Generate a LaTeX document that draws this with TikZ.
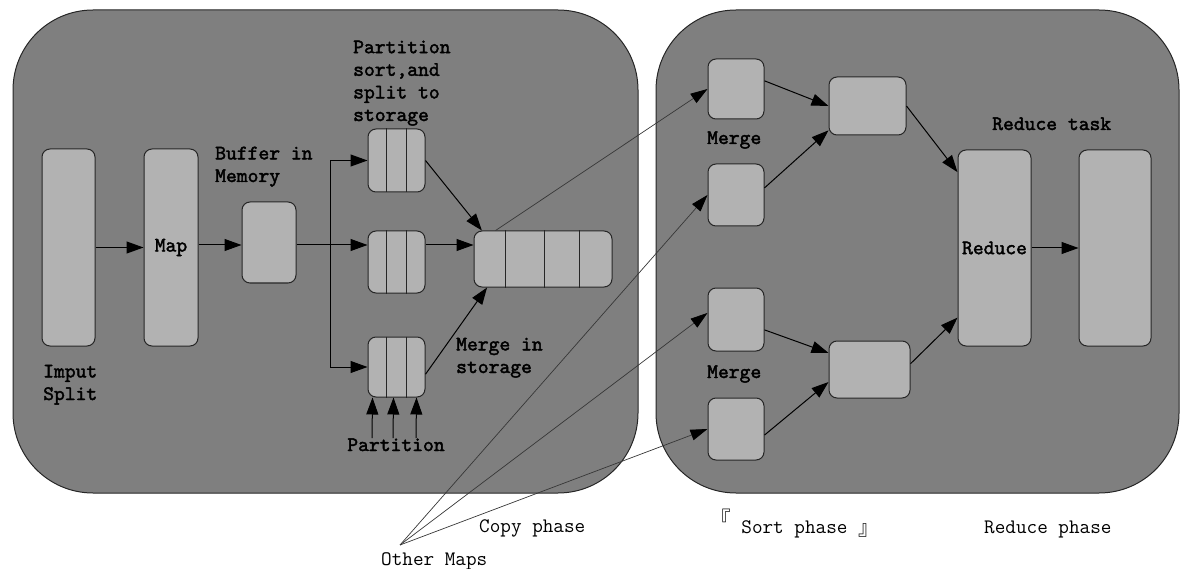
\documentclass[tikz,border=0pt]{standalone}
\usepackage{fontspec}
\newfontfamily\cjk{Noto Sans CJK SC}
\newfontfamily\ttbold{lmmono10-regular.otf}[FakeBold=2]
\usetikzlibrary{arrows.meta, calc}

\definecolor{panelgray}{RGB}{127,127,127}
\definecolor{boxgray}{RGB}{178,178,178}
\definecolor{copyline}{RGB}{55,55,55}

\begin{document}
\begin{tikzpicture}[
  x=1pt, y=-1pt,
  panel/.style = {draw=black!85, fill=panelgray, rounded corners=80pt, line width=1pt},
  box/.style = {draw=black!85, fill=boxgray, rounded corners=8pt, inner sep=0pt, line width=1pt,
                font=\ttbold\fontsize{20.6}{22.6}\selectfont},
  lbl/.style = {inner sep=0pt, align=left, anchor=base west,
                font=\ttbold\fontsize{20.6}{22.6}\selectfont},
  phase/.style = {inner sep=0pt, anchor=base west, font=\ttfamily\fontsize{20.6}{22.6}\selectfont},
  arrow/.style = {line width=1pt, -{Triangle[length=17pt,width=12pt]}},
  copyarrow/.style = {draw=copyline, line width=0.7pt, -{Triangle[length=17pt,width=11pt,color=black]}}
]
  \useasboundingbox (0,0) rectangle (1180,569);

  % Map side and reduce side
  \draw[panel] (13,10) rectangle (638,493);
  \draw[panel] (656,10) rectangle (1179,493);

  % Map task
  \node[box, minimum width=53pt, minimum height=197pt] (inp) at (68.5,247.5) {};
  \node[box, minimum width=54pt, minimum height=197pt] (map) at (171,247.5) {Map};
  \node[box, minimum width=54pt, minimum height=81pt] (buf) at (269,242.5) {};
  \node[box, minimum width=57pt, minimum height=63pt] (ptop) at (396.5,160.5) {};
  \node[box, minimum width=57pt, minimum height=62pt] (pmid) at (396.5,262) {};
  \node[box, minimum width=57pt, minimum height=60pt] (pbot) at (396.5,367) {};
  \node[box, minimum width=138pt, minimum height=56pt] (store) at (543,259) {};

  \foreach \p in {ptop,pmid,pbot}
    \foreach \f in {0.32,0.68}
      \draw[line width=1pt, black!85] ($(\p.north west)!\f!(\p.north east)$) -- ($(\p.south west)!\f!(\p.south east)$);
  \foreach \f in {0.23,0.51,0.76}
    \draw[line width=1pt, black!85] ($(store.north west)!\f!(store.north east)$) -- ($(store.south west)!\f!(store.south east)$);

  % Reduce task
  \node[box, minimum width=56pt, minimum height=60pt] (m1) at (736,89) {};
  \node[box, minimum width=56pt, minimum height=62pt] (m2) at (736,195) {};
  \node[box, minimum width=77pt, minimum height=58pt] (c1) at (867.5,106) {};
  \node[box, minimum width=56pt, minimum height=63pt] (m3) at (736,319.5) {};
  \node[box, minimum width=56pt, minimum height=62pt] (m4) at (736,429) {};
  \node[box, minimum width=81pt, minimum height=57pt] (c2) at (869.5,369.5) {};
  \node[box, minimum width=73pt, minimum height=196pt] (red) at (994.5,248) {Reduce};
  \node[box, minimum width=72pt, minimum height=196pt] (outb) at (1115,248) {};

  % Labels (base = last line)
  \node[lbl] (inplbl) at (43,400) {Imput\\Split};
  \node[lbl] (buflbl) at (215,182) {Buffer in\\Memory};
  \node[lbl] (sortlbl) at (353,121) {Partition\\sort,and\\split to\\storage};
  \node[lbl] (mrglbl) at (456,373) {Merge in\\storage};
  \node[lbl, anchor=base] (ptlbl) at (396,451) {Partition};
  \node[lbl] (mtop) at (707,144) {Merge};
  \node[lbl] (mbot) at (707,378) {Merge};
  \node[lbl] (redlbl) at (992,130) {Reduce task};

  \node[phase] (copyph) at (479,532) {Copy phase};
  \node[phase] (othmaps) at (381,565) {Other Maps};
  \node[phase] (sortph) at (710,533) {\raisebox{7pt}{\cjk 『} Sort phase \raisebox{-2pt}{\cjk 』}};
  \node[phase] (redph) at (984,533) {Reduce phase};

  % Map side arrows
  \coordinate (fork) at (330,245);
  \draw[arrow] (inp) -- (map);
  \draw[arrow] (map.east |- fork) -- (buf.west |- fork);
  \draw[arrow] (buf.east |- fork) -- (pmid.west |- fork);
  \draw[arrow] (fork) |- (ptop.west);
  \draw[arrow] (fork) |- (pbot.west);
  \draw[arrow] (ptop.east) -- (store.155);
  \draw[arrow] (pmid.east |- fork) -- (store.west |- fork);
  \draw[arrow] (pbot.-14) -- (store.207);
  \foreach \d in {-24,-3,20}
    \draw[arrow] ([xshift=\d pt]ptlbl.north) -- ([xshift=\d pt]pbot.south);

  % Copy phase
  \coordinate (om) at (400,545);
  \draw[copyarrow] (store.149) -- (m1.west);
  \draw[copyarrow] (om) -- (m2.west);
  \draw[copyarrow] (om) -- (m3.167);
  \draw[copyarrow] (om) -- (m4.west);

  % Sort and reduce
  \draw[arrow] (m1.16) -- (c1.west);
  \draw[arrow] (m2.14) -- (c1.212);
  \draw[arrow] (c1.east) -- (red.116);
  \draw[arrow] (m3.-20) -- (c2.158);
  \draw[arrow] (m4.-12) -- (c2.197);
  \draw[arrow] (c2.8) -- (red.242);
  \draw[arrow] (red) -- (outb);

\end{tikzpicture}
\end{document}
